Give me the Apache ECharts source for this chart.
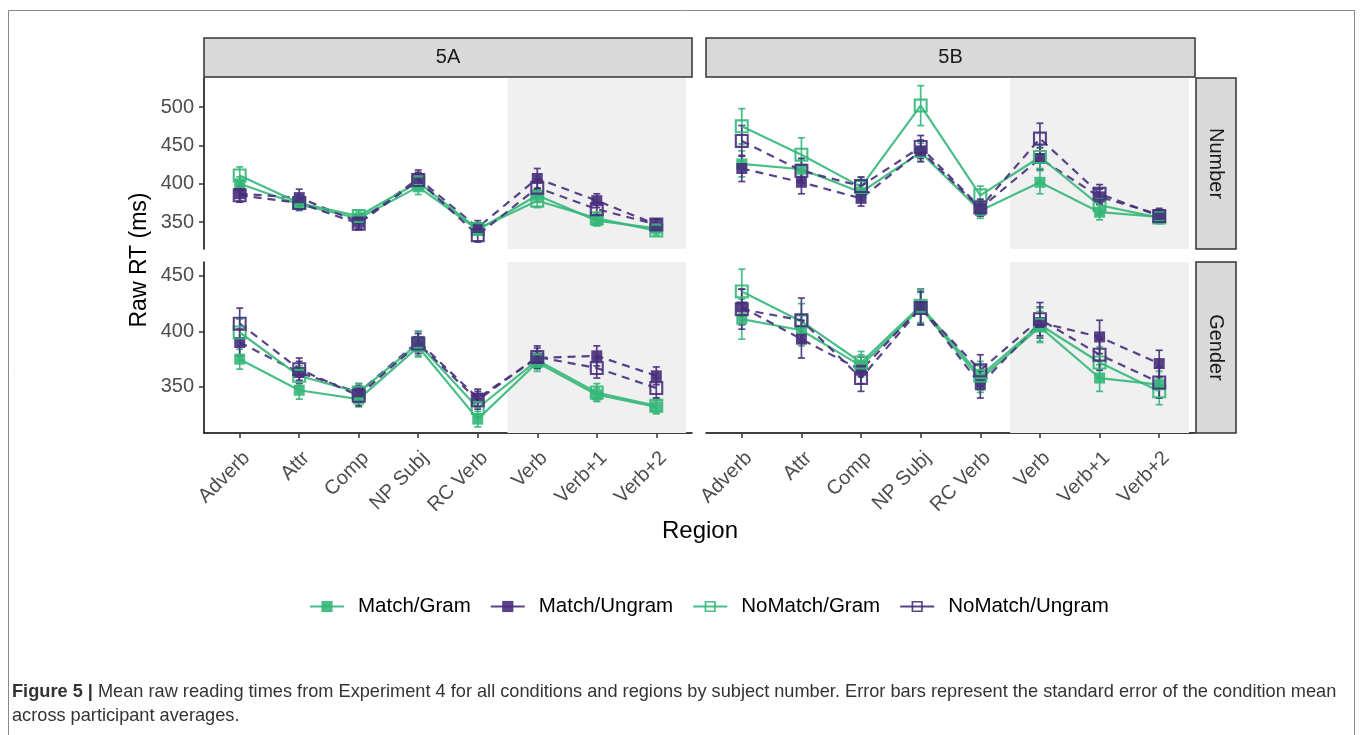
<!DOCTYPE html>
<html>
<head>
<meta charset="utf-8">
<title>Figure 5</title>
<script src="https://cdn.jsdelivr.net/npm/echarts@6/dist/echarts.min.js"></script>
<style>
  html, body { margin: 0; padding: 0; background: #fff; }
  #chart { width: 1360px; height: 735px; }
</style>
</head>
<body>
<div id="chart"></div>
<script>
// categories and conditions
const regions = ['Adverb', 'Attr', 'Comp', 'NP Subj', 'RC Verb', 'Verb', 'Verb+1', 'Verb+2']
const conditions = ['Match/Gram', 'Match/Ungram', 'NoMatch/Gram', 'NoMatch/Ungram']

// mean RT per condition (rows in conditions order), per region
const number5A = [
  [400, 373, 355, 396, 340, 385, 352, 342],
  [387, 382, 350, 407, 343, 407, 378, 347],
  [411, 375, 358, 402, 341, 378, 355, 339],
  [385, 375, 348, 405, 333, 395, 367, 347]
]
const number5B = [
  [426, 419, 389, 441, 365, 402, 363, 357],
  [420, 402, 381, 443, 368, 433, 383, 360],
  [475, 438, 396, 502, 385, 435, 372, 356],
  [456, 417, 397, 448, 369, 459, 387, 358]
]
const gender5A = [
  [375, 347, 339, 386, 321, 372, 343, 332],
  [390, 363, 345, 391, 340, 376, 378, 360],
  [399, 360, 345, 389, 331, 374, 345, 333],
  [407, 366, 342, 389, 338, 377, 367, 349]
]
const gender5B = [
  [411, 401, 369, 421, 357, 404, 358, 352],
  [422, 393, 365, 422, 352, 408, 395, 371],
  [436, 409, 372, 423, 360, 406, 372, 346],
  [420, 410, 358, 421, 365, 411, 379, 354]
]

// standard errors, same layout
const number5A_se = [
  [9, 8, 7, 10, 7, 9, 7, 6],
  [10, 11, 8, 11, 9, 13, 9, 7],
  [11, 8, 7, 10, 7, 9, 7, 6],
  [9, 9, 8, 10, 9, 11, 9, 7]
]
const number5B_se = [
  [17, 14, 10, 12, 10, 15, 10, 8],
  [17, 15, 10, 14, 10, 14, 10, 8],
  [23, 22, 12, 26, 12, 15, 12, 8],
  [20, 16, 12, 15, 11, 20, 12, 8]
]
const gender5A_se = [
  [9, 8, 7, 9, 7, 8, 6, 6],
  [12, 10, 8, 9, 8, 9, 9, 8],
  [12, 9, 8, 11, 8, 8, 8, 7],
  [14, 10, 9, 9, 8, 10, 9, 9]
]
const gender5B_se = [
  [18, 14, 10, 14, 12, 14, 12, 12],
  [16, 17, 12, 16, 12, 14, 15, 12],
  [20, 16, 10, 15, 13, 15, 14, 12],
  [18, 20, 12, 15, 14, 15, 14, 14]
]

// axis ticks
const numberTicks = [350, 400, 450, 500]
const genderTicks = [350, 400, 450]
const regionTicks = [1, 2, 3, 4, 5, 6, 7, 8]
const shadedRegion = [5.5, 8.5]

const GREEN = '#35b779'
const PURPLE = '#472d7b'
const FONT = 'Liberation Sans, Arial, sans-serif'
const HOLLOW = 'path://M0,0L12,0L12,12L0,12Z M1.8,1.8L1.8,10.2L10.2,10.2L10.2,1.8Z'

const condStyle = [
  { color: GREEN, symbol: 'rect', size: 11 },
  { color: PURPLE, symbol: 'rect', size: 11, dash: true },
  { color: GREEN, symbol: HOLLOW, size: 14 },
  { color: PURPLE, symbol: HOLLOW, size: 14, dash: true }
]

const panels = [
  { mean: number5A, se: number5A_se, grid: { left: 204, top: 78, width: 488, height: 171 }, range: [315, 538], ticks: numberTicks, left: true, bottom: false },
  { mean: number5B, se: number5B_se, grid: { left: 706, top: 78, width: 489, height: 171 }, range: [315, 538], ticks: numberTicks, left: false, bottom: false },
  { mean: gender5A, se: gender5A_se, grid: { left: 204, top: 262, width: 488, height: 171 }, range: [308.5, 462.5], ticks: genderTicks, left: true, bottom: true },
  { mean: gender5B, se: gender5B_se, grid: { left: 706, top: 262, width: 489, height: 171 }, range: [308.5, 462.5], ticks: genderTicks, left: false, bottom: true }
]

function errorBar(color) {
  return (params, api) => {
    const x = api.value(0)
    const lo = api.coord([x, api.value(1)])
    const hi = api.coord([x, api.value(2)])
    const cap = 3.5
    const style = { stroke: color, lineWidth: 1.7, fill: null, opacity: 0.9 }
    return {
      type: 'group',
      children: [
        { type: 'line', shape: { x1: lo[0], y1: lo[1], x2: hi[0], y2: hi[1] }, style },
        { type: 'line', shape: { x1: lo[0] - cap, y1: lo[1], x2: lo[0] + cap, y2: lo[1] }, style },
        { type: 'line', shape: { x1: hi[0] - cap, y1: hi[1], x2: hi[0] + cap, y2: hi[1] }, style }
      ]
    }
  }
}

const grid = panels.map(p => p.grid)

const xAxis = panels.map((p, i) => ({
  type: 'value',
  gridIndex: i,
  min: 0.4,
  max: 8.6,
  show: p.bottom,
  splitLine: { show: false },
  axisLine: { show: true, onZero: false, lineStyle: { color: '#000', width: 1.5 } },
  axisTick: { show: true, customValues: regionTicks, length: 5, lineStyle: { color: '#333', width: 1.5 } },
  axisLabel: {
    customValues: regionTicks,
    formatter: v => regions[v - 1],
    rotate: 45,
    verticalAlign: 'top',
    margin: 15,
    fontSize: 20,
    fontFamily: FONT,
    color: '#4d4d4d'
  }
}))

const yAxis = panels.map((p, i) => ({
  type: 'value',
  gridIndex: i,
  min: p.range[0],
  max: p.range[1],
  show: p.left,
  splitLine: { show: false },
  axisLine: { show: true, lineStyle: { color: '#000', width: 1.5 } },
  axisTick: { show: true, customValues: p.ticks, length: 5, lineStyle: { color: '#333', width: 1.5 } },
  axisLabel: {
    customValues: p.ticks,
    margin: 10,
    fontSize: 20,
    fontFamily: FONT,
    color: '#4d4d4d'
  }
}))

const series = []
panels.forEach((p, i) => {
  conditions.forEach((name, c) => {
    const st = condStyle[c]
    series.push({
      name: name + ' se',
      type: 'custom',
      xAxisIndex: i,
      yAxisIndex: i,
      z: 3,
      renderItem: errorBar(st.color),
      encode: { x: 0, y: [1, 2] },
      data: p.mean[c].map((m, k) => [k + 1, m - p.se[c][k], m + p.se[c][k]])
    })
  })
  conditions.forEach((name, c) => {
    const st = condStyle[c]
    const s = {
      name,
      type: 'line',
      xAxisIndex: i,
      yAxisIndex: i,
      z: 4,
      symbol: st.symbol,
      symbolSize: st.size,
      itemStyle: { color: st.color, opacity: 0.9 },
      lineStyle: { color: st.color, width: 2.2, opacity: 0.9, type: st.dash ? [8, 6] : 'solid' },
      data: p.mean[c].map((m, k) => [k + 1, m])
    }
    if (c === 0) {
      s.markArea = {
        silent: true,
        itemStyle: { color: '#f0f0f0' },
        data: [[{ xAxis: shadedRegion[0] }, { xAxis: shadedRegion[1] }]]
      }
    }
    series.push(s)
  })
})

function strip(x, y, w, h, label, vertical) {
  return [
    { type: 'rect', shape: { x, y, width: w, height: h }, style: { fill: '#d9d9d9', stroke: '#333', lineWidth: 1.5 }, z: 10 },
    {
      type: 'text',
      x: x + w / 2,
      y: y + h / 2,
      rotation: vertical ? -Math.PI / 2 : 0,
      style: { text: label, fontSize: 20, fontFamily: FONT, fill: '#1a1a1a', align: 'center', verticalAlign: 'middle' },
      z: 11
    }
  ]
}

const option = {
  animation: false,
  backgroundColor: '#fff',
  grid,
  xAxis,
  yAxis,
  series,
  legend: {
    data: conditions,
    left: 304,
    top: 591,
    itemWidth: 34,
    itemHeight: 14,
    itemGap: 19,
    lineStyle: { type: 'solid' },
    textStyle: { fontSize: 20.5, fontFamily: FONT, color: '#000', padding: [0, 0, 0, 9] }
  },
  graphic: [
    { type: 'rect', shape: { x: 8.5, y: 10.5, width: 1346, height: 740 }, style: { fill: null, stroke: '#888', lineWidth: 1 } },
    ...strip(204, 38, 488, 39, '5A', false),
    ...strip(706, 38, 489, 39, '5B', false),
    ...strip(1196, 78, 40, 171, 'Number', true),
    ...strip(1196, 262, 40, 171, 'Gender', true),
    {
      type: 'text', x: 140, y: 260, rotation: Math.PI / 2,
      style: { text: 'Raw RT (ms)', fontSize: 23, fontFamily: FONT, fill: '#000', align: 'center', verticalAlign: 'middle' }
    },
    {
      type: 'text', x: 700, y: 531,
      style: { text: 'Region', fontSize: 24, fontFamily: FONT, fill: '#000', align: 'center', verticalAlign: 'middle' }
    },
    {
      type: 'text', x: 12, y: 692,
      style: {
        text: '{b|Figure 5 |} Mean raw reading times from Experiment 4 for all conditions and regions by subject number. Error bars represent the standard error of the condition mean',
        rich: { b: { fontWeight: 'bold', fontSize: 18.2, fontFamily: FONT, fill: '#333' } },
        fontSize: 18.2, fontFamily: FONT, fill: '#333', verticalAlign: 'middle'
      }
    },
    {
      type: 'text', x: 12, y: 716,
      style: { text: 'across participant averages.', fontSize: 18.2, fontFamily: FONT, fill: '#333', verticalAlign: 'middle' }
    }
  ]
}

const chart = echarts.init(document.getElementById('chart'))
chart.setOption(option)
</script>
</body>
</html>
